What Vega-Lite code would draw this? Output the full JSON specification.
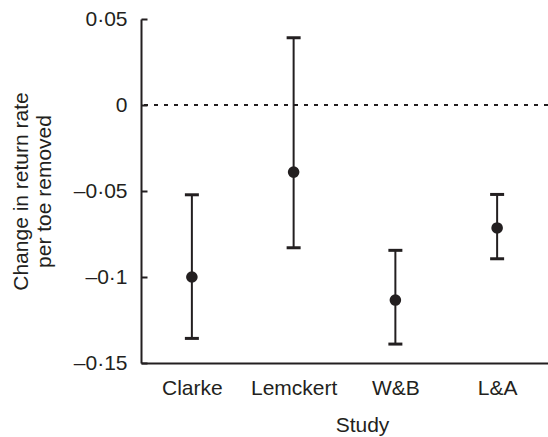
{
  "$schema": "https://vega.github.io/schema/vega-lite/v6.json",
  "autosize": {"type": "none"},
  "width": 407,
  "height": 344,
  "padding": {"left": 141, "top": 19, "right": 0, "bottom": 74},
  "background": "white",
  "config": {
    "view": {"stroke": null},
    "font": "Liberation Sans",
    "axis": {
      "domainColor": "#231f20",
      "domainWidth": 2,
      "tickColor": "#231f20",
      "tickWidth": 2,
      "labelColor": "#231f20",
      "titleColor": "#231f20",
      "labelFont": "Liberation Sans",
      "titleFont": "Liberation Sans",
      "labelFontSize": 21,
      "titleFontSize": 21,
      "titleFontWeight": "normal",
      "grid": false
    }
  },
  "data": {
    "values": [
      {"study": "Clarke", "est": -0.1, "lo": -0.1357, "hi": -0.0522},
      {"study": "Lemckert", "est": -0.039, "lo": -0.083, "hi": 0.0391},
      {"study": "W&B", "est": -0.1134, "lo": -0.139, "hi": -0.0845},
      {"study": "L&A", "est": -0.0715, "lo": -0.0894, "hi": -0.052}
    ]
  },
  "encoding": {
    "x": {
      "field": "study",
      "type": "nominal",
      "sort": null,
      "scale": {"type": "point", "padding": 0.5},
      "axis": {
        "title": "Study",
        "labelAngle": 0,
        "ticks": false,
        "labelPadding": 14,
        "titlePadding": 16,
        "titleX": 221
      }
    }
  },
  "layer": [
    {
      "mark": {"type": "rule", "color": "#231f20", "strokeWidth": 2, "strokeDash": [4, 6]},
      "encoding": {"x": null, "y": {"datum": 0, "type": "quantitative"}}
    },
    {
      "mark": {"type": "rule", "color": "#231f20", "strokeWidth": 2},
      "encoding": {
        "y": {
          "field": "lo",
          "type": "quantitative",
          "scale": {"domain": [-0.15, 0.05], "nice": false, "zero": false},
          "axis": {
            "title": ["Change in return rate", "per toe removed"],
            "values": [0.05, 0, -0.05, -0.1, -0.15],
            "labelExpr": "datum.value == 0 ? '0' : replace(replace(format(datum.value, '~g'), '.', '·'), '−', '–')",
            "tickSize": -6,
            "labelPadding": 20,
            "titlePadding": 19,
            "titleLineHeight": 23
          }
        },
        "y2": {"field": "hi"}
      }
    },
    {
      "mark": {"type": "tick", "color": "#231f20", "thickness": 3, "size": 14, "opacity": 1},
      "encoding": {"y": {"field": "lo", "type": "quantitative"}}
    },
    {
      "mark": {"type": "tick", "color": "#231f20", "thickness": 3, "size": 14, "opacity": 1},
      "encoding": {"y": {"field": "hi", "type": "quantitative"}}
    },
    {
      "mark": {"type": "circle", "color": "#231f20", "size": 135, "opacity": 1},
      "encoding": {"y": {"field": "est", "type": "quantitative"}}
    }
  ]
}
